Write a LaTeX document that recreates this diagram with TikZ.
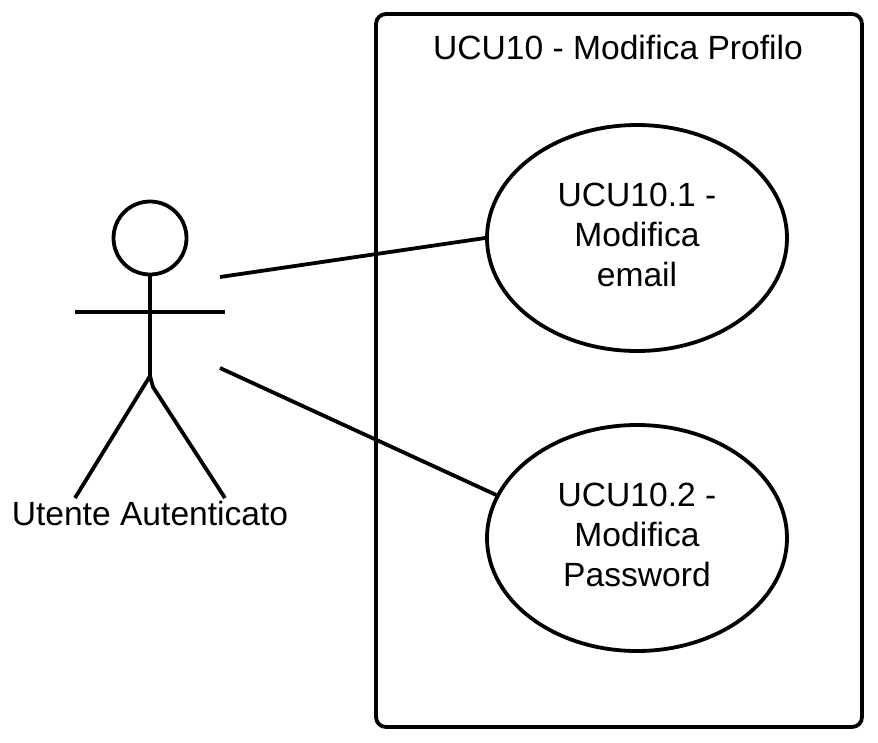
\documentclass[tikz,border=0pt]{standalone}
\usepackage{fontspec}
\setmainfont{Liberation Sans}
\usetikzlibrary{shapes.geometric}
\tikzset{
 ln/.style={line width=3.8pt,black},
 uc/.style={draw,ellipse,line width=3.8pt,minimum width=300pt,minimum height=226pt,inner sep=0pt,align=center},
 uctext/.style={inner sep=0pt,align=center,font=\fontsize{33.6}{40}\selectfont},
 lab/.style={inner sep=0pt,font=\fontsize{33.6}{40}\selectfont}
}
\begin{document}
\begin{tikzpicture}[x=1pt,y=-1pt]
\useasboundingbox (0,0) rectangle (878,742);
\draw[ln,rounded corners=10pt] (376,14) rectangle (862,727);
\node[lab] (title) at (618,47) {UCU10 - Modifica Profilo};
\node[uc] (a) at (637,238) {};
\node[uc] (b) at (637,538) {};
\node[uctext] (atext) at (637,235) {UCU10.1 -\\Modifica\\email};
\node[uctext] (btext) at (637,535) {UCU10.2 -\\Modifica\\Password};
\node[draw,circle,line width=3.8pt,minimum size=73pt,inner sep=0pt] (head) at (150,238) {};
\coordinate (neck) at (150,376);
\coordinate (hip) at (153,387);
\coordinate (armL) at (75,312);
\coordinate (armR) at (225,312);
\coordinate (footL) at (75,498);
\coordinate (footR) at (225,498);
\draw[ln] (head.south) -- (neck);
\draw[black,line width=3.2pt] (armL) -- (armR);
\draw[ln] (footL) -- (neck) -- (hip) -- (footR);
\node[lab] (actor) at (150,513) {Utente Autenticato};
\coordinate (c1) at (220,277);
\coordinate (c2) at (220,368);
\draw[ln] (c1) -- (a.180.8);
\draw[ln] (c2) -- (b.163);
\end{tikzpicture}
\end{document}
